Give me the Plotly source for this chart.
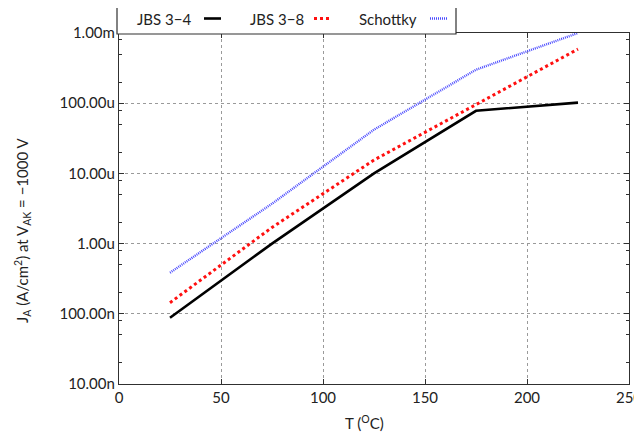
import plotly.graph_objects as go

T = [25, 75, 125, 175, 225]
jbs34 = [8.8e-8, 1.0e-6, 1.0e-5, 7.8e-5, 1.02e-4]
jbs38 = [1.44e-7, 1.7e-6, 1.55e-5, 9.5e-5, 5.9e-4]
schottky = [3.85e-7, 3.7e-6, 4.2e-5, 3.0e-4, 1.0e-3]

ytickvals = [1e-8, 1e-7, 1e-6, 1e-5, 1e-4, 1e-3]
yticktext = ["10.00n", "100.00n", "1.00u", "10.00u", "100.00u", "1.00m"]
xtickvals = [0, 50, 100, 150, 200, 250]
names = ["JBS 3\u22124", "JBS 3\u22128", "Schottky"]

FONT = "Lato"
FS = 15
AX = "#303030"

styles = [
    dict(color="black", width=2.6, dash="solid"),
    dict(color="#ff1010", width=3, dash="3px,3px"),
    dict(color="#4a4aff", width=2.4, dash="1px,1px"),
]

fig = go.Figure()
for name, ys, st in zip(names, [jbs34, jbs38, schottky], styles):
    fig.add_trace(go.Scatter(x=T, y=ys, mode="lines", name=name, line=st, showlegend=False))

minor_vals = []
for e in range(-8, -3):
    for m in (2, 5, 8):
        minor_vals.append(m * 10 ** e)

# page has an 8px body margin: compensate so the plot area lands at x 119..629, y 33..384
fig.update_layout(
    width=634, height=430,
    margin=dict(l=111, r=13, t=25, b=54, autoexpand=False),
    paper_bgcolor="white", plot_bgcolor="white",
    font=dict(family=FONT, size=FS, color="#222"),
    xaxis=dict(
        range=[0, 250], tickvals=xtickvals, ticks="inside", ticklen=5, tickcolor=AX,
        showline=True, linecolor=AX, linewidth=1.2, mirror="ticks", automargin=False,
        ticklabeloverflow="allow",
        showgrid=True, gridcolor="#9a9a9a", griddash="dot", gridwidth=1,
        zeroline=False, tickfont=dict(family=FONT, size=FS, color="#222"),
    ),
    yaxis=dict(
        type="log", range=[-8, -3], tickvals=ytickvals, ticktext=yticktext,
        ticks="inside", ticklen=5, tickcolor=AX, automargin=False,
        ticklabeloverflow="allow",
        showline=True, linecolor=AX, linewidth=1.2, mirror="ticks",
        showgrid=True, gridcolor="#9a9a9a", griddash="dot", gridwidth=1,
        zeroline=False, tickfont=dict(family=FONT, size=FS, color="#222"),
        minor=dict(tickvals=minor_vals, ticks="inside", ticklen=3, tickcolor=AX, showgrid=False),
    ),
)

def px(xp):
    return (xp - 119) / 510

def py(yp):
    return (384 - yp) / 351

# axis titles
fig.add_annotation(
    text="J<sub>A</sub> (A/cm<sup>2</sup>) at V<sub>AK</sub> = \u22121000 V",
    xref="paper", yref="paper", x=px(22), y=py(231),
    xanchor="center", yanchor="middle", textangle=-90, showarrow=False,
    font=dict(family=FONT, size=FS, color="#222"),
)
fig.add_annotation(
    text="T (<sup>O</sup>C)",
    xref="paper", yref="paper", x=px(364), y=py(422),
    xanchor="center", yanchor="middle", showarrow=False,
    font=dict(family=FONT, size=FS, color="#222"),
)

# custom legend (text then line sample)
fig.add_shape(type="rect", xref="paper", yref="paper",
              x0=px(117), x1=px(456), y0=py(34), y1=py(3),
              line=dict(color=AX, width=1.2), fillcolor="white", layer="above")
text_right = [193, 306, 419]
sample_x = [(204, 221), (314, 332), (430, 447)]
for name, st, tr, (sx0, sx1) in zip(names, styles, text_right, sample_x):
    fig.add_annotation(text=name, xref="paper", yref="paper", x=px(tr), y=py(19),
                       xanchor="right", yanchor="middle", showarrow=False,
                       font=dict(family=FONT, size=FS, color="#222"))
    fig.add_shape(type="line", xref="paper", yref="paper",
                  x0=px(sx0), x1=px(sx1), y0=py(18.5), y1=py(18.5),
                  line=st, layer="above")

fig.write_html("out.html")
